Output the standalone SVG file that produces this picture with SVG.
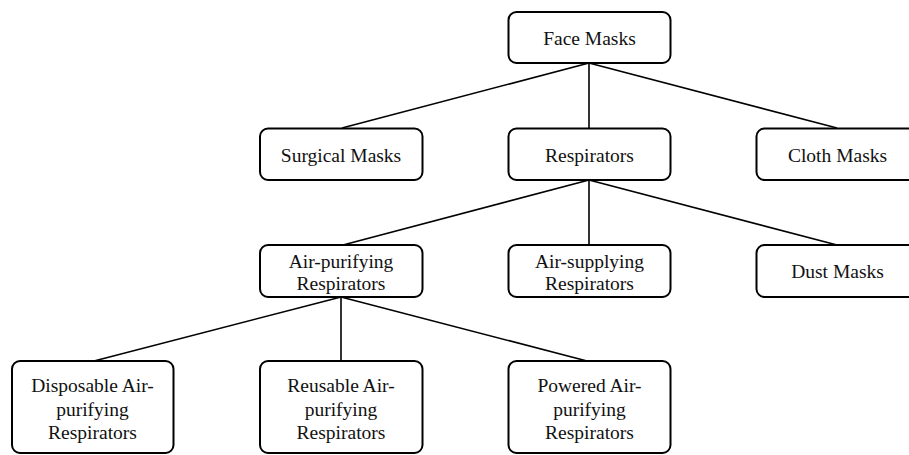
<svg xmlns="http://www.w3.org/2000/svg" width="909" height="455" viewBox="0 0 909 455">
<style>
.box{fill:#fff;stroke:#000;stroke-width:2}
.c{stroke:#000;stroke-width:1.6;fill:none}
</style>
<rect width="909" height="455" fill="#fff"/>
<g id="connectors">
<line class="c" x1="589" y1="63" x2="342" y2="128"/>
<line class="c" x1="589" y1="63" x2="589" y2="128"/>
<line class="c" x1="589" y1="63" x2="837" y2="128"/>
<line class="c" x1="589" y1="180" x2="343" y2="245"/>
<line class="c" x1="589" y1="180" x2="589" y2="245"/>
<line class="c" x1="589" y1="180" x2="837" y2="245"/>
<line class="c" x1="341" y1="297" x2="94" y2="361"/>
<line class="c" x1="341" y1="297" x2="341" y2="361"/>
<line class="c" x1="341" y1="297" x2="587" y2="361"/>
</g>
<g id="face-masks"><rect class="box" x="508.5" y="12" width="162" height="51" rx="8"/><text font-family="Liberation Serif, serif" font-size="19.5" fill="#111" text-anchor="middle" x="589.5" y="45">Face Masks</text></g>
<g id="surgical-masks"><rect class="box" x="260" y="128.5" width="162.5" height="51.5" rx="8"/><text font-family="Liberation Serif, serif" font-size="19.5" fill="#111" text-anchor="middle" x="341" y="161.5">Surgical Masks</text></g>
<g id="respirators"><rect class="box" x="508.5" y="128.5" width="162" height="51.5" rx="8"/><text font-family="Liberation Serif, serif" font-size="19.5" fill="#111" text-anchor="middle" x="589.5" y="161.5">Respirators</text></g>
<g id="cloth-masks"><rect class="box" x="756.5" y="128.5" width="162" height="51.5" rx="8"/><text font-family="Liberation Serif, serif" font-size="19.5" fill="#111" text-anchor="middle" x="837.5" y="161.5">Cloth Masks</text></g>
<g id="air-purifying"><rect class="box" x="260" y="245" width="162.5" height="52" rx="8"/><text font-family="Liberation Serif, serif" font-size="19.5" fill="#111" text-anchor="middle" x="341" y="267.5">Air-purifying</text><text font-family="Liberation Serif, serif" font-size="19.5" fill="#111" text-anchor="middle" x="341" y="290">Respirators</text></g>
<g id="air-supplying"><rect class="box" x="508.5" y="245" width="162" height="52" rx="8"/><text font-family="Liberation Serif, serif" font-size="19.5" fill="#111" text-anchor="middle" x="589.5" y="267.5">Air-supplying</text><text font-family="Liberation Serif, serif" font-size="19.5" fill="#111" text-anchor="middle" x="589.5" y="290">Respirators</text></g>
<g id="dust-masks"><rect class="box" x="756.5" y="245" width="162" height="52" rx="8"/><text font-family="Liberation Serif, serif" font-size="19.5" fill="#111" text-anchor="middle" x="837.5" y="278">Dust Masks</text></g>
<g id="disposable"><rect class="box" x="12" y="361" width="161.5" height="92" rx="8"/><text font-family="Liberation Serif, serif" font-size="19.5" fill="#111" text-anchor="middle" x="92.5" y="392">Disposable Air-</text><text font-family="Liberation Serif, serif" font-size="19.5" fill="#111" text-anchor="middle" x="92.5" y="415.5">purifying</text><text font-family="Liberation Serif, serif" font-size="19.5" fill="#111" text-anchor="middle" x="92.5" y="439">Respirators</text></g>
<g id="reusable"><rect class="box" x="260" y="361" width="162.5" height="92" rx="8"/><text font-family="Liberation Serif, serif" font-size="19.5" fill="#111" text-anchor="middle" x="341" y="392">Reusable Air-</text><text font-family="Liberation Serif, serif" font-size="19.5" fill="#111" text-anchor="middle" x="341" y="415.5">purifying</text><text font-family="Liberation Serif, serif" font-size="19.5" fill="#111" text-anchor="middle" x="341" y="439">Respirators</text></g>
<g id="powered"><rect class="box" x="508.5" y="361" width="162" height="92" rx="8"/><text font-family="Liberation Serif, serif" font-size="19.5" fill="#111" text-anchor="middle" x="589.5" y="392">Powered Air-</text><text font-family="Liberation Serif, serif" font-size="19.5" fill="#111" text-anchor="middle" x="589.5" y="415.5">purifying</text><text font-family="Liberation Serif, serif" font-size="19.5" fill="#111" text-anchor="middle" x="589.5" y="439">Respirators</text></g>
</svg>
